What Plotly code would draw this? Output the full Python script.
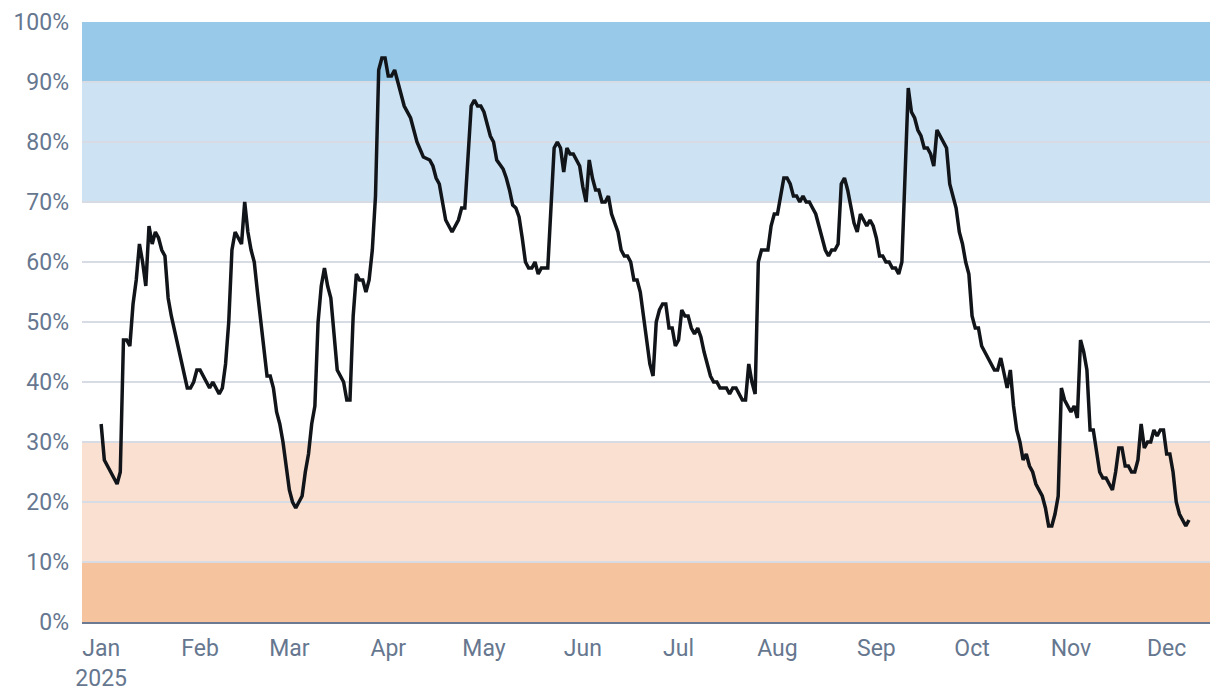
import plotly.graph_objects as go
import pandas as pd

# day offsets from 2025-01-01 and values (%)
day_offset = [
    0, 1, 3, 5, 6, 7, 8, 9, 10, 11, 12, 13, 14, 15, 16, 17, 18, 19, 20, 21, 22, 24, 25, 26, 27, 28, 29, 30, 31,
    33, 34, 35, 36, 37, 38, 39, 40, 41, 42, 43, 44, 45, 46, 47, 48, 49, 50, 51, 52, 53, 54, 55, 56, 57, 58, 59,
    60, 61, 62, 63, 64, 65, 66, 67, 68, 69, 70, 71, 72, 73, 74, 75, 76, 77, 78, 79, 80, 81, 82, 83, 84, 85, 86,
    87, 88, 89, 90, 91, 92, 93, 94, 95, 97, 98, 99, 101, 103, 104, 105, 106, 107, 108, 110, 111, 112, 113, 114,
    116, 117, 118, 119, 120, 121, 122, 123, 124, 126, 127, 128, 129, 130, 131, 132, 133, 134, 135, 136, 137, 138,
    140, 142, 143, 144, 145, 146, 147, 148, 149, 150, 151, 152, 153, 154, 155, 156, 157, 158, 159, 160, 161, 162,
    163, 164, 165, 166, 167, 168, 169, 170, 171, 172, 173, 174, 175, 176, 177, 178, 179, 180, 181, 182, 183, 184,
    185, 186, 187, 188, 189, 190, 191, 192, 193, 194, 195, 196, 197, 198, 199, 200, 201, 202, 203, 204, 205, 206,
    207, 208, 209, 210, 211, 212, 213, 214, 215, 216, 217, 218, 219, 220, 221, 222, 223, 224, 225, 226, 227, 228,
    229, 230, 231, 232, 233, 234, 235, 236, 237, 238, 239, 240, 241, 242, 243, 244, 245, 246, 247, 248, 249, 250,
    251, 253, 254, 255, 256, 257, 258, 259, 260, 261, 262, 263, 264, 265, 266, 267, 268, 269, 270, 271, 272, 273,
    274, 275, 276, 277, 278, 279, 280, 281, 282, 283, 284, 285, 286, 287, 288, 289, 290, 291, 292, 293, 294, 295,
    296, 297, 298, 299, 300, 301, 302, 303, 304, 305, 306, 307, 308, 309, 310, 311, 312, 313, 314, 315, 316, 317,
    318, 319, 320, 321, 322, 323, 324, 325, 326, 327, 328, 329, 330, 331, 332, 333, 334, 335, 336, 337, 338, 339,
    340, 341,
]
values = [
    33, 27, 25, 23, 25, 47, 47, 46, 53, 57, 63, 60, 56, 66, 63, 65, 64, 62, 61, 54, 51, 46, 44, 41, 39, 39, 40, 42, 42,
    40, 39, 40, 39, 38, 39, 43, 50, 62, 65, 64, 63, 70, 65, 62, 60, 55, 50, 45, 41, 41, 39, 35, 33, 30, 26, 22,
    20, 19, 20, 21, 25, 28, 33, 36, 50, 56, 59, 56, 54, 48, 42, 41, 40, 37, 37, 51, 58, 57, 57, 55, 57, 62, 71,
    92, 94, 94, 91, 91, 92, 90, 88, 86, 84, 82, 80, 77.5, 77, 76, 74, 73, 70, 67, 65, 66, 67, 69, 69,
    86, 87, 86, 86, 85, 83, 81, 80, 77, 75.5, 74, 72, 69.5, 69, 67.5, 64, 60, 59, 59, 60, 58, 59,
    59, 79, 80, 79, 75, 79, 78, 78, 77, 76, 72.5, 70, 77, 74, 72, 72, 70, 70, 71, 68, 66.5, 65,
    62, 61, 61, 60, 57, 57, 55, 51, 46, 43, 41, 50, 52, 53, 53, 49, 49, 46, 47, 52, 51, 51,
    49, 48, 49, 47.5, 45, 43, 41, 40, 40, 39, 39, 39, 38, 39, 39, 38, 37, 37, 43, 40, 38, 60,
    62, 62, 62, 66, 68, 68, 71, 74, 74, 73, 71, 71, 70, 71, 70, 70, 69, 68, 66, 64, 62, 61,
    62, 62, 63, 73, 74, 72, 69, 66.5, 65, 68, 67, 66, 67, 66, 64, 61, 61, 60, 60, 59, 59, 58,
    60, 89, 85, 84, 82, 81, 79, 79, 78, 76, 82, 81, 80, 79, 73, 71, 69, 65, 63, 60, 58, 51,
    49, 49, 46, 45, 44, 43, 42, 42, 44, 41.5, 39, 42, 36, 32, 30, 27, 28, 26, 25, 23, 22, 21,
    19, 16, 16, 18, 21, 39, 37, 36, 35, 36, 34, 47, 45, 42, 32, 32, 28, 25, 24, 24, 23, 22,
    25, 29, 29, 26, 26, 25, 25, 27, 33, 29, 30, 30, 32, 31, 32, 32, 28, 28, 25, 20, 18, 17,
    16, 17,
]

tick_dates = ["2025-01-01", "2025-02-01", "2025-03-01", "2025-04-01", "2025-05-01", "2025-06-01",
              "2025-07-01", "2025-08-01", "2025-09-01", "2025-10-01", "2025-11-01", "2025-12-01"]
tick_text = ["Jan<br>2025", "Feb", "Mar", "Apr", "May", "Jun", "Jul", "Aug", "Sep", "Oct", "Nov", "Dec"]

# background bands
band_low = [90, 70, 10, 0]
band_high = [100, 90, 30, 10]
band_color = ["#99c9e8", "#cde3f3", "#f9e0d0", "#f5c39e"]

dates = pd.Timestamp("2025-01-01") + pd.to_timedelta(day_offset, unit="D")

fig = go.Figure()
fig.add_trace(go.Scatter(
    x=dates, y=values, mode="lines",
    line=dict(color="#111418", width=3.5),
    hoverinfo="skip", showlegend=False,
))

for lo, hi, c in zip(band_low, band_high, band_color):
    fig.add_shape(type="rect", xref="paper", x0=0, x1=1, yref="y", y0=lo, y1=hi,
                  fillcolor=c, line=dict(width=0), layer="below")

label_color = "#66778f"
fnt = "Roboto, sans-serif"
fig.update_layout(
    width=1220, height=698,
    margin=dict(l=82, r=10, t=22, b=76),
    paper_bgcolor="white", plot_bgcolor="white",
    font=dict(family=fnt, size=23, color=label_color),
    showlegend=False,
    hovermode=False,
    xaxis=dict(
        range=["2024-12-26", "2025-12-14 14:00"],
        tickvals=tick_dates, ticktext=tick_text,
        showgrid=False, zeroline=False,
        showline=True, linecolor="#6b7a90", linewidth=2,
        ticks="", ticklabelstandoff=4, automargin=False,
        tickfont=dict(family=fnt, size=23, color=label_color),
    ),
    yaxis=dict(
        range=[0, 100], dtick=10, tick0=0, ticksuffix="%",
        showgrid=True, gridcolor="#d6dbe4", gridwidth=2,
        zeroline=False, showline=False, ticks="",
        ticklabelstandoff=12, automargin=False,
        tickfont=dict(family=fnt, size=23, color=label_color),
    ),
)

fig.write_html(
    "out.html",
    config={"displayModeBar": False, "staticPlot": True},
    post_script="document.body.style.margin='0';document.body.style.overflow='hidden';",
)
